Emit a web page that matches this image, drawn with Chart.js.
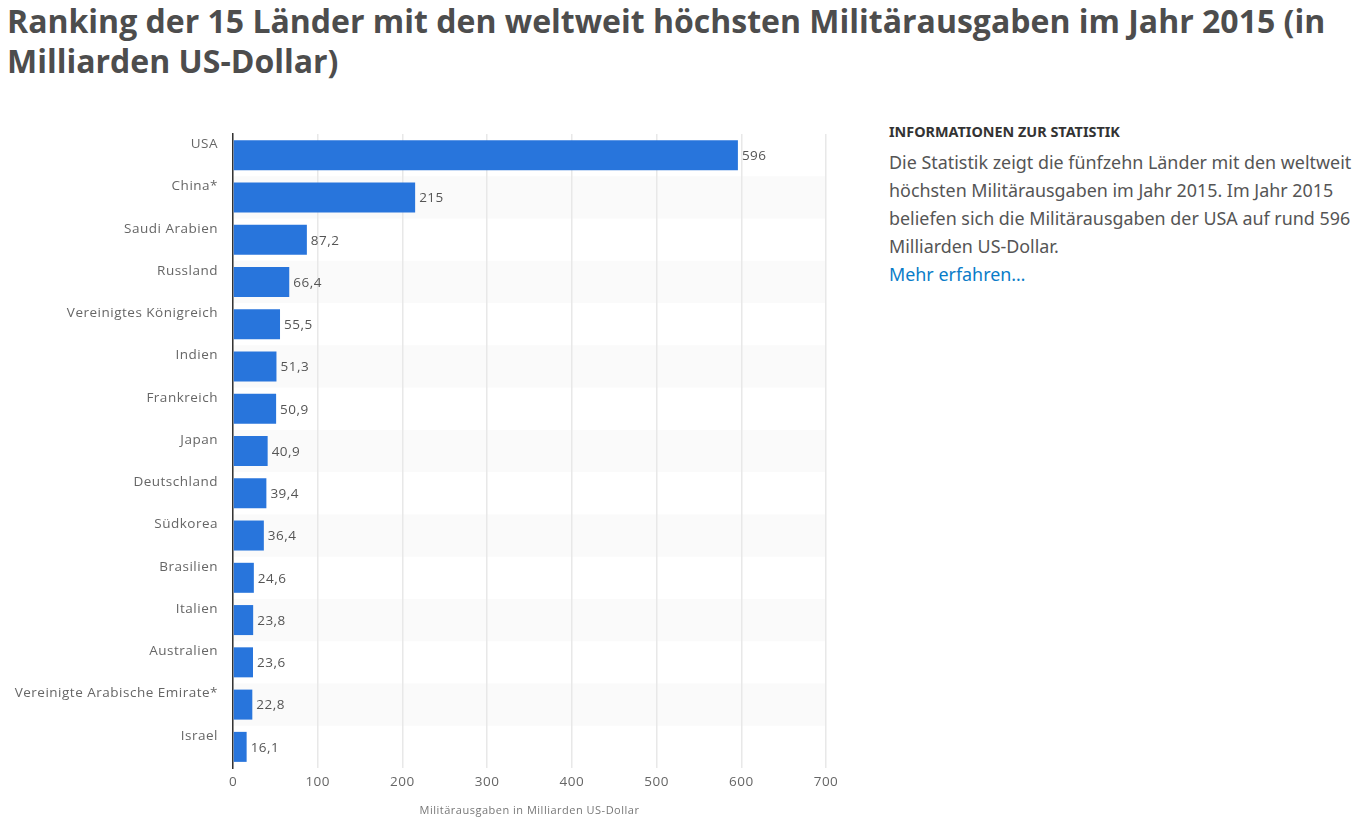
<!DOCTYPE html>
<html lang="de">
<head>
<meta charset="utf-8">
<title>Militärausgaben 2015</title>
<script src="https://cdn.jsdelivr.net/npm/chart.js@4"></script>
<style>
  html, body { margin: 0; padding: 0; background: #fff; overflow: hidden; }
  body { width: 1368px; height: 817px; position: relative; font-family: "Noto Sans", sans-serif; }
  h1 { position: absolute; left: 7px; top: 1px; width: 1355px; margin: 0; font-family: "Open Sans", sans-serif; font-size: 32px; line-height: 40px; font-weight: 700; color: #4d4d4d; }
  #chartBox { position: absolute; left: 0; top: 110px; width: 860px; height: 707px; }
  #info { position: absolute; left: 889px; top: 122px; width: 470px; color: #555; font-size: 17.9px; line-height: 28px; }
  #info h2 { margin: 0 0 6px; font-size: 14.4px; line-height: 20px; font-weight: 700; color: #333; }
  #info a { color: #0a7cc8; text-decoration: none; }
</style>
</head>
<body>
<h1>Ranking der 15 Länder mit den weltweit höchsten Militärausgaben im Jahr 2015 (in Milliarden US-Dollar)</h1>
<div id="chartBox"><canvas id="barChart"></canvas></div>
<div id="info">
  <h2>INFORMATIONEN ZUR STATISTIK</h2>
  Die Statistik zeigt die fünfzehn Länder mit den weltweit<br>
  höchsten Militärausgaben im Jahr 2015. Im Jahr 2015<br>
  beliefen sich die Militärausgaben der USA auf rund 596<br>
  Milliarden US-Dollar.<br>
  <a href="#">Mehr erfahren…</a>
</div>
<script>
const countries = ["USA", "China*", "Saudi Arabien", "Russland", "Vereinigtes Königreich", "Indien", "Frankreich", "Japan", "Deutschland", "Südkorea", "Brasilien", "Italien", "Australien", "Vereinigte Arabische Emirate*", "Israel"];
const spending = [596, 215, 87.2, 66.4, 55.5, 51.3, 50.9, 40.9, 39.4, 36.4, 24.6, 23.8, 23.6, 22.8, 16.1];
const axisTitle = "Militärausgaben in Milliarden US-Dollar";

const labelFont = '13.5px "Open Sans"';

// Grey stripe behind every second country
const stripes = {
  id: "stripes",
  beforeDraw(chart) {
    const { ctx, chartArea, scales } = chart;
    const band = scales.y.height / countries.length;
    ctx.save();
    ctx.fillStyle = "#fafafa";
    countries.forEach((name, i) => {
      if (i % 2 === 1) {
        ctx.fillRect(chartArea.left, scales.y.getPixelForValue(i) - band / 2, chartArea.width, band);
      }
    });
    ctx.restore();
  }
};

// Value next to the end of each bar, with German decimal comma
const valueLabels = {
  id: "valueLabels",
  afterDatasetsDraw(chart) {
    const { ctx } = chart;
    ctx.save();
    ctx.font = labelFont;
    ctx.fillStyle = "#555";
    ctx.textAlign = "left";
    ctx.textBaseline = "middle";
    chart.getDatasetMeta(0).data.forEach((bar, i) => {
      ctx.fillText(String(spending[i]).replace(".", ","), bar.x + 4, bar.y + 1);
    });
    ctx.restore();
  }
};

const canvas = document.getElementById("barChart");
// the reference text is set slightly wide
canvas.style.letterSpacing = "0.5px";
canvas.getContext("2d").letterSpacing = "0.5px";

new Chart(canvas, {
  type: "bar",
  data: {
    labels: countries,
    datasets: [{
      data: spending,
      backgroundColor: "#2875dc",
      categoryPercentage: 1,
      barPercentage: 0.71
    }]
  },
  plugins: [stripes, valueLabels],
  options: {
    indexAxis: "y",
    responsive: true,
    maintainAspectRatio: false,
    animation: false,
    layout: { padding: { top: 24, right: 34, bottom: 0, left: 0 } },
    plugins: {
      legend: { display: false },
      tooltip: { enabled: false }
    },
    scales: {
      x: {
        min: 0,
        max: 700,
        ticks: { stepSize: 100, color: "#666", font: { family: "Open Sans", size: 13.5 }, padding: 6 },
        grid: { color: "#e8e8e8", lineWidth: 1.5, drawTicks: false },
        border: { display: false },
        title: {
          display: true,
          text: axisTitle,
          color: "#777",
          font: { family: "Open Sans", size: 11 },
          padding: { top: 2, bottom: 0 }
        },
        afterFit(scale) { scale.height = 49; }
      },
      y: {
        ticks: { color: "#666", font: { family: "Open Sans", size: 13.5 }, padding: 15, labelOffset: -11, autoSkip: false },
        grid: { display: false, drawTicks: false },
        border: { display: true, color: "#333", width: 1.5 },
        afterFit(scale) { scale.width = 233; }
      }
    }
  }
});
</script>
</body>
</html>
